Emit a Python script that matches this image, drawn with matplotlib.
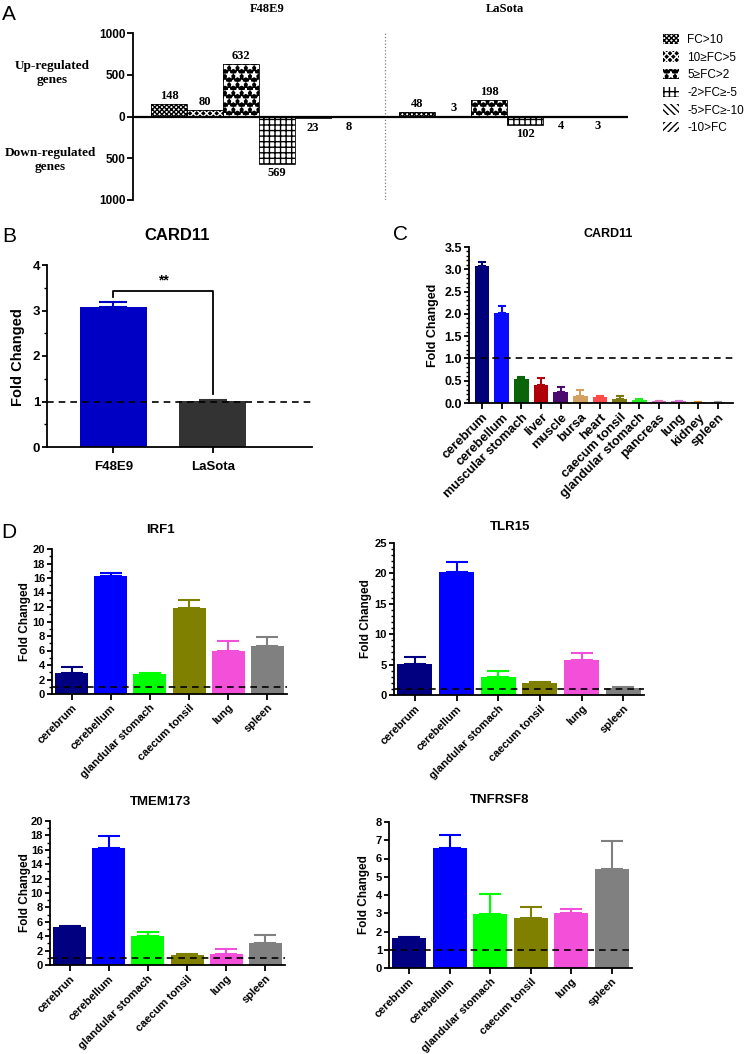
import numpy as np
import matplotlib
matplotlib.use('Agg')
import matplotlib.pyplot as plt
from matplotlib.patches import Patch
from matplotlib.ticker import MultipleLocator, FormatStrFormatter

plt.rcParams['font.family'] = 'Liberation Sans'
plt.rcParams['font.weight'] = 'bold'
plt.rcParams['axes.linewidth'] = 1.3
plt.rcParams['xtick.major.width'] = 1.3
plt.rcParams['ytick.major.width'] = 1.3
plt.rcParams['ytick.minor.width'] = 1.0
plt.rcParams['hatch.linewidth'] = 1.0

SERIF = 'Liberation Serif'

# ---- A: number of regulated genes per fold-change class ----
fc_classes = ['FC>10', '10≥FC>5', '5≥FC>2', '-2>FC≥-5', '-5>FC≥-10', '-10>FC']
f48e9_genes = [148, 80, 632, -569, -23, -8]
lasota_genes = [48, 3, 198, -102, -4, -3]
# hatch, fill and hatch colour per class
hatches = ['xxxxxxx', 'xxxxx', '**', '+++', '\\\\\\\\\\', '/////']
hatch_fill = ['white', 'black', 'black', 'white', 'white', 'white']
hatch_ink = ['black', 'white', 'white', 'black', 'black', 'black']

# ---- B: CARD11 by strain ----
strains = ['F48E9', 'LaSota']
card11_strain_fc = [3.08, 1.02]
card11_strain_err = [0.10, 0.01]
strain_colors = ['#0000c4', '#333333']

# ---- C: CARD11 by tissue ----
tissues_c = ['cerebrum', 'cerebellum', 'muscular stomach', 'liver', 'muscle', 'bursa',
             'heart', 'caecum tonsil', 'glandular stomach', 'pancreas', 'lung',
             'kidney', 'spleen']
card11_tissue_fc = [3.07, 2.01, 0.53, 0.40, 0.24, 0.15, 0.14, 0.08, 0.07, 0.04, 0.04, 0.02, 0.02]
card11_tissue_err = [0.10, 0.16, 0.05, 0.17, 0.13, 0.14, 0.01, 0.08, 0.01, 0.01, 0.01, 0.005, 0.005]
tissue_colors_c = ['#00007a', '#0a0aff', '#0a640a', '#b00008', '#4a0a6e', '#d4a060',
                   '#ff4848', '#7a7a10', '#22ee22', '#e070b8', '#d470d4', '#e08a30', '#9a9a9a']

# ---- D: four genes by tissue ----
tissues_d = ['cerebrum', 'cerebellum', 'glandular stomach', 'caecum tonsil', 'lung', 'spleen']
tissues_d_tmem = ['cerebrun', 'cerebellum', 'glandular stomach', 'caecum tonsil', 'lung', 'spleen']
colors_d = ['#000080', '#0000ff', '#00ff00', '#808000', '#f250d8', '#808080']

irf1_fc = [2.9, 16.3, 2.7, 11.9, 6.0, 6.6]
irf1_err = [0.8, 0.4, 0.2, 1.1, 1.35, 1.3]
tlr15_fc = [5.1, 20.2, 3.0, 2.0, 5.75, 1.1]
tlr15_err = [1.2, 1.6, 1.0, 0.2, 1.2, 0.15]
tmem173_fc = [5.3, 16.2, 4.07, 1.44, 1.53, 3.0]
tmem173_err = [0.15, 1.7, 0.45, 0.06, 0.7, 1.1]
tnfrsf8_fc = [1.64, 6.6, 2.94, 2.76, 3.03, 5.42]
tnfrsf8_err = [0.06, 0.7, 1.1, 0.58, 0.2, 1.52]

W, H = 750, 1054
fig = plt.figure(figsize=(W / 100, H / 100), dpi=100)


def px_axes(left, top, right, bottom):
    return fig.add_axes([left / W, 1 - bottom / H, (right - left) / W, (bottom - top) / H])


def px_text(x, y, s, **kw):
    kw.setdefault('ha', 'center')
    kw.setdefault('va', 'center')
    fig.text(x / W, 1 - y / H, s, **kw)


def fc_bars(ax, values, errors, colors, width, capsize):
    x = np.arange(len(values))
    ax.bar(x, values, width=width, color=colors, zorder=2)
    for xi, v, e, c in zip(x, values, errors, colors):
        ax.errorbar(xi, v, yerr=[[0], [e]], fmt='none', ecolor=c, elinewidth=1.5,
                    capsize=capsize, capthick=1.5, zorder=2)
    ax.axhline(1, color='black', ls=(0, (4, 3)), lw=1.2, zorder=3)
    ax.spines[['top', 'right']].set_visible(False)
    ax.set_xticks(x)
    ax.tick_params(axis='x', length=4, direction='out', pad=2)
    ax.tick_params(axis='y', which='major', length=3.5, pad=1.5)
    ax.tick_params(axis='y', which='minor', length=2.2)
    return x


# ---------------- Panel A ----------------
ax = px_axes(133, 33, 628, 200)
for start, counts in [(1.0, f48e9_genes), (7.9, lasota_genes)]:
    pos = start + np.arange(len(counts))
    ax.bar(pos, counts, width=1.0, color=hatch_fill, edgecolor=hatch_ink,
           linewidth=0, hatch=hatches)
    ax.bar(pos, counts, width=1.0, fill=False, edgecolor='black', linewidth=0.6)
    for p, c in zip(pos, counts):
        ax.annotate(str(abs(c)), (p, c),
                    xytext=(0, 1.5 if c > 0 else -2.5), textcoords='offset points',
                    ha='center', va='bottom' if c > 0 else 'top',
                    family=SERIF, fontsize=9, fontweight='bold')
ax.set_xlim(0, 13.75)
ax.set_ylim(-1000, 1000)
ax.axhline(0, color='black', lw=1.6, zorder=4)
ax.axvline(7.0, color='gray', ls=':', lw=0.9)
ax.spines[['top', 'right', 'bottom']].set_visible(False)
ax.set_xticks([])
ax.set_yticks([-1000, -500, 0, 500, 1000])
ax.set_yticklabels([str(abs(v)) for v in [-1000, -500, 0, 500, 1000]])
ax.tick_params(axis='y', labelsize=8.5, length=4, pad=1.5)

px_text(267, 9, 'F48E9', family=SERIF, fontsize=9)
px_text(505, 9, 'LaSota', family=SERIF, fontsize=9)
px_text(52, 73, 'Up-regulated\ngenes', family=SERIF, fontsize=9.5, linespacing=1.3)
px_text(50, 160, 'Down-regulated\ngenes', family=SERIF, fontsize=9.5, linespacing=1.3)

handles = [Patch(facecolor=f, edgecolor=k, linewidth=0, hatch=h)
           for h, f, k in zip(hatches, hatch_fill, hatch_ink)]
fig.legend(handles, fc_classes, loc='upper left', bbox_to_anchor=(652 / W, 1 - 23 / H),
           frameon=False, prop={'family': 'Liberation Sans', 'weight': 'normal', 'size': 8.5},
           handlelength=1.4, handleheight=1.0, labelspacing=0.45, handletextpad=0.7)

# ---------------- Panel B ----------------
ax = px_axes(47, 265, 312, 447)
x = fc_bars(ax, card11_strain_fc, card11_strain_err, strain_colors, 0.68, 10)
ax.set_xlim(-0.67, 2.0)
ax.set_ylim(0, 4)
ax.yaxis.set_major_locator(MultipleLocator(1))
ax.yaxis.set_minor_locator(MultipleLocator(0.5))
ax.set_xticklabels(strains)
ax.tick_params(labelsize=9.5)
ax.tick_params(axis='x', pad=6)
top_l = card11_strain_fc[0] + card11_strain_err[0]
top_r = card11_strain_fc[1] + card11_strain_err[1]
ax.plot([x[0], x[0], x[1], x[1]], [top_l + 0.12, top_l + 0.25, top_l + 0.25, top_r + 0.13],
        color='black', lw=1.3)
ax.text((x[0] + x[1]) / 2, top_l + 0.33, '**', ha='center', va='bottom', fontsize=10)
px_text(177, 236, 'CARD11', fontsize=12)
px_text(18, 357, 'Fold Changed', fontsize=10.5, rotation=90)

# ---------------- Panel C ----------------
ax = px_axes(469, 247, 733, 403)
fc_bars(ax, card11_tissue_fc, card11_tissue_err, tissue_colors_c, 0.75, 3)
ax.set_xlim(-0.66, 12.76)
ax.set_ylim(0, 3.5)
ax.yaxis.set_major_locator(MultipleLocator(0.5))
ax.yaxis.set_minor_locator(MultipleLocator(0.1))
ax.yaxis.set_major_formatter(FormatStrFormatter('%.1f'))
ax.set_xticklabels(tissues_c, rotation=45, ha='right', rotation_mode='anchor')
ax.tick_params(axis='x', labelsize=9.3)
ax.tick_params(axis='y', labelsize=9)
px_text(608, 234, 'CARD11', fontsize=9)
px_text(433, 325, 'Fold Changed', fontsize=9, rotation=90)

# ---------------- Panel D ----------------
d_panels = [
    ('IRF1', tissues_d, irf1_fc, irf1_err, (52, 549, 287, 694), 20, 2, 1, 160, 530, 25),
    ('TLR15', tissues_d, tlr15_fc, tlr15_err, (394, 543, 644, 695), 25, 5, 1, 510, 527, 366),
    ('TMEM173', tissues_d_tmem, tmem173_fc, tmem173_err, (50, 821, 285, 965), 20, 2, 1, 160, 802, 25),
    ('TNFRSF8', tissues_d, tnfrsf8_fc, tnfrsf8_err, (389, 822, 632, 968), 8, 1, None, 500, 800, 364),
]
for title, labels, fc, err, box, ymax, major, minor, tx, ty, lx in d_panels:
    ax = px_axes(*box)
    fc_bars(ax, fc, err, colors_d, 0.84, 8)
    ax.set_xlim(-0.5, 5.5)
    ax.set_ylim(0, ymax)
    ax.yaxis.set_major_locator(MultipleLocator(major))
    if minor:
        ax.yaxis.set_minor_locator(MultipleLocator(minor))
    ax.set_xticklabels(labels, rotation=45, ha='right', rotation_mode='anchor')
    ax.tick_params(axis='x', labelsize=8)
    ax.tick_params(axis='y', labelsize=8)
    px_text(tx, ty, title, fontsize=9.5)
    px_text(lx, (box[1] + box[3]) / 2, 'Fold Changed', fontsize=8.5, rotation=90)

# panel letters
for letter, lx, ly in [('A', 9, 14), ('B', 9, 237), ('C', 401, 234), ('D', 9, 533)]:
    px_text(lx, ly, letter, fontsize=15, fontweight='normal')

fig.savefig('out.png', dpi=100)
